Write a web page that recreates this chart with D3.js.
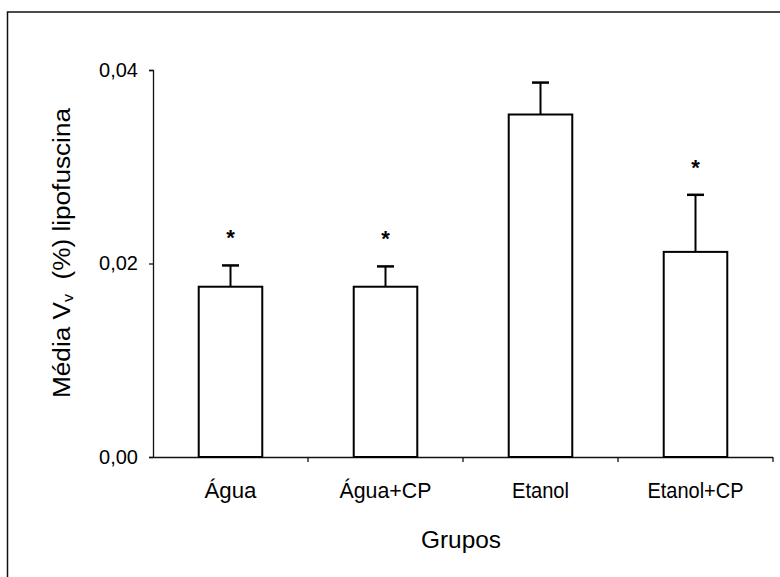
<!DOCTYPE html>
<html><head><meta charset="utf-8">
<script src="https://cdn.jsdelivr.net/npm/d3@7"></script>
<style>body{margin:0;background:#fff}svg{display:block}</style>
</head><body>
<svg id="c" width="780" height="577"></svg>
<script>
const categories = ["Água", "Água+CP", "Etanol", "Etanol+CP"];
const means = [0.0176, 0.0176, 0.0354, 0.0212];
const errors = [0.0022, 0.0021, 0.0033, 0.0059];
const significant = [true, true, false, true];
const yTicks = [0, 0.02, 0.04];
const yTickLabels = ["0,00", "0,02", "0,04"];

const svg = d3.select("#c");
const font = "Arial, 'Liberation Sans', sans-serif";
// outer frame
svg.append("path").attr("d","M7.5,590 L7.5,12 L790,12").attr("fill","none").attr("stroke","#111").attr("stroke-width",1.5);

const x = d3.scaleBand().domain(categories).range([153, 773]).paddingInner(0.59).paddingOuter(0.295);
const y = d3.scaleLinear().domain([0, 0.04]).range([457, 70]);

// y axis
const ya = svg.append("g").attr("transform","translate(153,0)")
  .call(d3.axisLeft(y).tickValues(yTicks).tickSize(4).tickFormat((d,i)=>yTickLabels[i]));
ya.select(".domain").attr("stroke","#111").attr("stroke-width",1.3).attr("d","M-4,70.5H0.5V457");
ya.selectAll(".tick line").attr("stroke","#111").attr("stroke-width",1.3);
ya.selectAll(".tick text").attr("font-family",font).attr("font-size",20).attr("fill","#000").attr("x",-15);

// x axis
const xa = svg.append("g").attr("transform","translate(0,457)");
xa.append("line").attr("x1",149).attr("x2",773).attr("y1",0.5).attr("y2",0.5).attr("stroke","#111").attr("stroke-width",1.3);
const bounds = categories.map((c,i)=>153 + x.step()*(i+1));
xa.selectAll("line.tk").data(bounds).enter().append("line").attr("class","tk")
  .attr("x1",d=>d).attr("x2",d=>d).attr("y1",0).attr("y2",5).attr("stroke","#111").attr("stroke-width",1.3);
const labelWidths = [52, 92, 57, 96];
xa.selectAll("text").data(categories).enter().append("text")
  .attr("x",d=>x(d)+x.bandwidth()/2).attr("y",41).attr("text-anchor","middle")
  .attr("font-family",font).attr("font-size",22).attr("fill","#000")
  .attr("textLength",(d,i)=>labelWidths[i]).attr("lengthAdjust","spacingAndGlyphs").text(d=>d);

// bars
const g = svg.append("g");
g.selectAll("rect").data(categories).enter().append("rect")
  .attr("x",d=>x(d)).attr("width",x.bandwidth())
  .attr("y",(d,i)=>y(means[i])).attr("height",(d,i)=>y(0)-y(means[i]))
  .attr("fill","#fff").attr("stroke","#000").attr("stroke-width",2);
// error bars
categories.forEach((c,i)=>{
  const cx = x(c)+x.bandwidth()/2;
  g.append("line").attr("x1",cx).attr("x2",cx).attr("y1",y(means[i])).attr("y2",y(means[i]+errors[i])).attr("stroke","#000").attr("stroke-width",2);
  g.append("line").attr("x1",cx-8.5).attr("x2",cx+8.5).attr("y1",y(means[i]+errors[i])).attr("y2",y(means[i]+errors[i])).attr("stroke","#000").attr("stroke-width",2.5);
  if (significant[i]) {
    g.append("text").attr("x",cx).attr("y",y(means[i]+errors[i])-20).attr("text-anchor","middle")
      .attr("font-family",font).attr("font-size",22).attr("font-weight","bold").text("*");
  }
});

// axis titles
svg.append("text").attr("x",461).attr("y",548).attr("text-anchor","middle")
  .attr("font-family",font).attr("font-size",24).attr("fill","#000")
  .attr("textLength",80).attr("lengthAdjust","spacingAndGlyphs").text("Grupos");
const yt = svg.append("text").attr("transform","translate(70,253) rotate(-90)").attr("text-anchor","middle")
  .attr("font-family",font).attr("font-size",23).attr("fill","#000")
  .attr("textLength",290).attr("lengthAdjust","spacingAndGlyphs");
yt.append("tspan").text("Média V");
yt.append("tspan").attr("font-size",14).attr("dy",3).text("v");
yt.append("tspan").attr("dy",-3).text("\u00a0 (%) lipofuscina");
</script>
</body></html>
